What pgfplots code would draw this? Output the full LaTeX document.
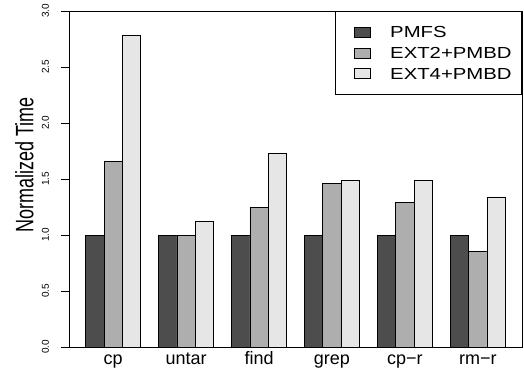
\documentclass[border=0pt]{standalone}
\usepackage{pgfplots}
\pgfplotsset{compat=1.18}
\usepackage{fontspec}
\setmainfont{Liberation Sans}
\usepackage{graphicx}
\definecolor{cPMFS}{HTML}{4D4D4D}
\definecolor{cEXTtwo}{HTML}{AEAEAE}
\definecolor{cEXTfour}{HTML}{E6E6E6}
\newcommand{\legtxt}[1]{\scalebox{1.27}[1]{#1}}
\begin{document}
\begin{tikzpicture}[x=1pt,y=1pt]
\useasboundingbox (0,0) rectangle (524,368);
\begin{axis}[
  at={(69pt,21pt)}, anchor=south west,
  scale only axis, width=453pt, height=336pt,
  xmin=0.08, xmax=24.92, ymin=0, ymax=3,
  axis line style={line width=0.8pt},
  xtick={2.5,6.5,10.5,14.5,18.5,22.5},
  xticklabels={cp,untar,find,grep,cp−r,rm−r},
  xtick style={draw=none},
  xticklabel style={font=\fontsize{18}{18}\selectfont, anchor=base, inner sep=0pt},
  xticklabel shift=8.7pt,
  ytick={0,0.5,1,1.5,2,2.5,3},
  ytick pos=left,
  tick align=outside,
  major tick length=8.3pt,
  ytick style={line width=0.8pt, black},
  yticklabel style={xshift=-11.7pt, rotate=90, anchor=base, inner sep=0pt, font=\fontsize{10}{10}\selectfont,
    /pgf/number format/.cd, fixed, fixed zerofill, precision=1, assume math mode=true},
  ylabel={\scalebox{1}[1.4]{Normalized Time}},
  every axis y label/.style={at={(axis description cs:-0.0784,0.5417)}, rotate=90, anchor=base, inner sep=0pt, font=\fontsize{18}{18}\selectfont},
  legend cell align=left,
  legend style={at={(1,1)}, anchor=north east, draw=black, line width=0.8pt, fill=white,
    font=\fontsize{16}{16}\selectfont, inner xsep=10pt, inner ysep=15pt,
    nodes={inner sep=0pt, text height=11.5pt, text depth=0pt, anchor=west},
    row sep=9.3pt},
  legend image code/.code={\draw[#1, line width=0.8pt] (0pt,-5pt) rectangle (16pt,5pt); \path (-8.3pt,0pt) (35.3pt,0pt);},
  bar width=1,
]
\addplot[ybar, bar shift=0pt, fill=cPMFS, draw=black, line width=0.8pt] coordinates {
  (1.5,1.00) (5.5,1.00) (9.5,1.00) (13.5,1.00) (17.5,1.00) (21.5,1.00)};
\addlegendentry{\legtxt{PMFS}}
\addplot[ybar, bar shift=0pt, fill=cEXTtwo, draw=black, line width=0.8pt] coordinates {
  (2.5,1.66) (6.5,1.00) (10.5,1.25) (14.5,1.46) (18.5,1.29) (22.5,0.85)};
\addlegendentry{\legtxt{EXT2+PMBD}}
\addplot[ybar, bar shift=0pt, fill=cEXTfour, draw=black, line width=0.8pt] coordinates {
  (3.5,2.78) (7.5,1.12) (11.5,1.73) (15.5,1.49) (19.5,1.49) (23.5,1.34)};
\addlegendentry{\legtxt{EXT4+PMBD}}
\end{axis}
\end{tikzpicture}
\end{document}
